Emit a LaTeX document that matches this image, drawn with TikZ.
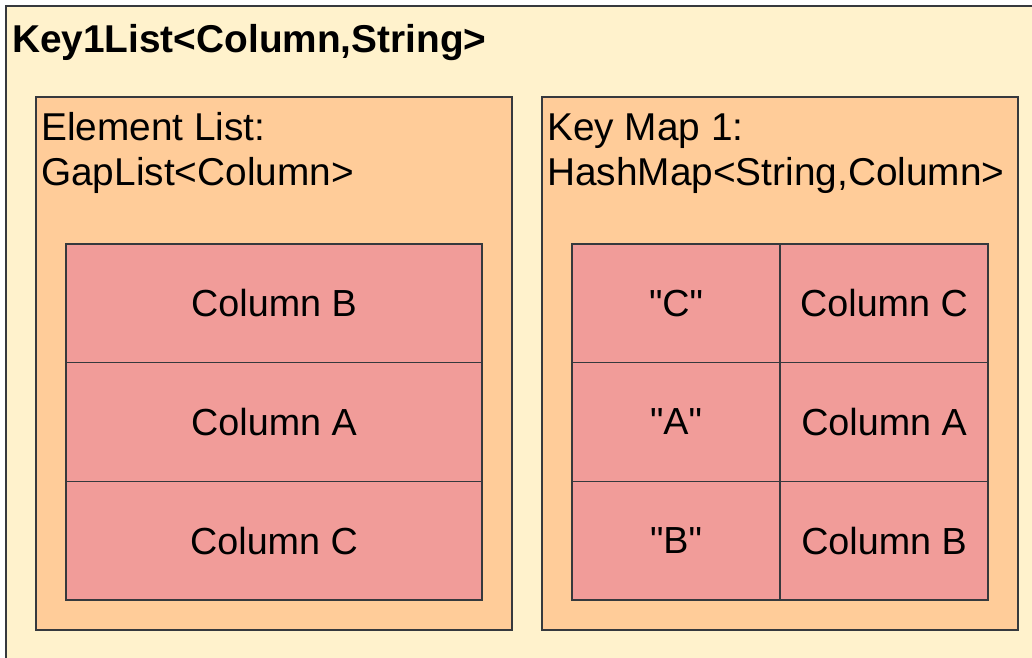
\documentclass[tikz,border=0pt]{standalone}
\usepackage{fontspec}
\setmainfont{Liberation Sans}
\newfontfamily\plainsans{Liberation Sans}
\definecolor{bgyellow}{HTML}{FFF2CC}
\definecolor{panelorange}{HTML}{FFCC99}
\definecolor{cellred}{HTML}{F19C99}
\definecolor{edgegray}{HTML}{36393D}
\begin{document}
\begin{tikzpicture}[x=1pt,y=-1pt,
  outerbox/.style={draw=edgegray,fill=bgyellow,line width=2pt,inner sep=0pt,outer sep=0pt,anchor=north west,minimum width=1040pt,minimum height=660pt},
  panelbox/.style={draw=edgegray,fill=panelorange,line width=1.5pt,inner sep=0pt,outer sep=0pt,anchor=north west,minimum width=476pt,minimum height=533pt},
  cellbox/.style={draw=edgegray,fill=cellred,line width=1.3pt,inner sep=0pt,outer sep=0pt,minimum height=118.67pt,font=\plainsans\fontsize{37.7}{44}\selectfont},
  widecell/.style={cellbox,minimum width=416pt},
  halfcell/.style={cellbox,minimum width=208pt},
  labeltext/.style={anchor=base west,inner sep=0pt,font=\plainsans\fontsize{38.8}{46}\selectfont},
  titletext/.style={anchor=base west,inner sep=0pt,font=\plainsans\bfseries\fontsize{38.8}{46}\selectfont}
]
\useasboundingbox (0,0) rectangle (1032,657);
\node[outerbox] (outer) at (6,6) {};
\node[titletext] (title) at (12,52) {Key1List<Column,String>};
\node[panelbox] (leftpanel) at (36,97) {};
\node[panelbox] (rightpanel) at (542,97) {};
\node[labeltext] (lefttitle1) at (41,140) {Element List:};
\node[labeltext] (lefttitle2) at (41,185) {GapList<Column>};
\node[labeltext] (righttitle1) at (547,140) {Key Map 1:};
\node[labeltext] (righttitle2) at (547,185) {HashMap<String,Column>};
% left list
\node[widecell] (lb) at (274,303.33) {Column B};
\node[widecell] (la) at (274,422) {Column A};
\node[widecell] (lc) at (274,540.67) {Column C};
% right map
\node[halfcell] (kc) at (676,303.33) {"C"};
\node[halfcell] (vc) at (884,303.33) {Column C};
\node[halfcell] (ka) at (676,422) {"A"};
\node[halfcell] (va) at (884,422) {Column A};
\node[halfcell] (kb) at (676,540.67) {"B"};
\node[halfcell] (vb) at (884,540.67) {Column B};
\end{tikzpicture}
\end{document}
